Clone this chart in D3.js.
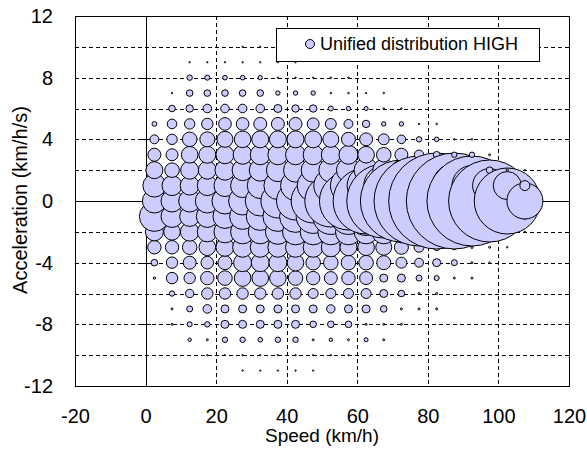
<!DOCTYPE html>
<html><head><meta charset="utf-8">
<script src="https://cdn.jsdelivr.net/npm/d3@7"></script>
<style>
html,body{margin:0;padding:0;background:#fff;}
svg{display:block;font-family:"Liberation Sans",Arial,sans-serif;}
</style></head>
<body>
<svg id="chart" width="587" height="452"></svg>
<script>
// Bubble grid: speed bins (km/h) x acceleration bins (km/h/s)
const speeds = [2.5,7.5,12.5,17.5,22.5,27.5,32.5,37.5,42.5,47.5,52.5,57.5,62.5,67.5,72.5,77.5,82.5,87.5,92.5,97.5,102.5,107.5];
const accels = [10,9,8,7,6,5,4,3,2,1,0,-1,-2,-3,-4,-5,-6,-7,-8,-9,-10,-11];
// relative frequency (bubble area units); one row per acceleration, columns follow speeds
const freq = [
 [0,0,0,0,0,0.5,0.5,0,0,0,0,0,0,0,0,0,0,0,0,0,0,0],
 [0,0,0.5,0.5,0.5,0.5,0.5,0.5,0.5,0,0,0,0,0,0,0,0,0,0,0,0,0],
 [0,0,7.3,6.3,5.3,5.3,4.8,0.5,0.5,0.5,0.6,0.6,0,0,0,0,0,0,0,0,0,0],
 [0,0.6,10.9,10.9,10.9,10.9,10.9,4.8,4.8,4.8,0.6,0.6,0.5,0.6,0,0,0,0,0,0,0,0],
 [0,10.9,13.7,18.5,18.5,18.5,18.5,16,13.7,13.7,6.3,4.8,4,0.6,0.6,0,0,0,0,0,0,0],
 [5.8,23,27,32.5,40,40,42,42,42,36,30,20,13.7,4.8,4.8,0.6,0.6,0,0,0,0,0],
 [20,27,53,56,64,69,72,72,72,72,64,49,42,30,18.5,7.3,5.3,0.6,0.6,0,0,0],
 [42,36,69,72,81,90,100,100,100,100,90,90,69,53,42,22,10.9,7.3,7.3,1,0,0],
 [72,53,81,81,100,110,121,132,144,144,144,144,144,121,100,81,64,49,25,10.9,1.4,0.6],
 [132,100,90,100,121,144,169,196,225,256,289,324,361,400,441,484,484,484,400,289,196,25],
 [144,121,121,144,169,196,225,289,361,484,676,841,1089,1369,1681,2025,2304,2304,2025,1681,1089,324],
 [225,121,100,121,144,169,196,225,256,289,324,324,361,400,441,441,441,400,324,169,64,7.3],
 [81,69,86,100,121,144,144,156,169,169,169,169,144,144,121,100,81,64,36,16,2.3,0.6],
 [45,45,53,69,81,100,100,100,100,100,90,72,69,64,49,25,10.9,6.3,1.4,1,0.6,0],
 [10.9,32.5,42,40,49,81,81,81,69,53,53,53,53,49,30,20,16,9,1,0.6,0,0],
 [1.4,32.5,32.5,45,53,69,69,69,53,45,42,45,42,16,16,9,6.3,1,1,0,0,0],
 [0,7.3,17.6,32.5,32.5,32.5,32.5,32.5,32.5,25,25,25,25,16,10.9,1,1,0,0,0,0,0],
 [0,1,9,18.5,16,16,16,16,16,16,17.6,16,16,10.9,1,1,1,0,0,0,0,0],
 [0,1,6.3,7.3,16,16,16,16,16,10.9,10.9,10.9,1,1,1,0,0,0,0,0,0,0],
 [0,0,2.9,1,7.3,7.3,5.3,7.3,7.3,1,2.9,1,4,1,0,0,0,0,0,0,0,0],
 [0,0,0,0.5,0.5,0.5,0.5,0.5,0.5,0.5,0.5,0.5,0,0,0,0,0,0,0,0,0,0],
 [0,0,0,0,0,0.5,0.5,0.5,0.5,0.5,0,0,0,0,0,0,0,0,0,0,0,0]
];
const xTicks = [-20,0,20,40,60,80,100,120];
const yTicks = [-12,-8,-4,0,4,8,12];
const xGridVals = [20,40,60,80,100];
const yGridVals = [-10,-8,-6,-4,-2,2,4,6,8,10];
const seriesName = "Unified distribution HIGH";
const xTitle = "Speed (km/h)";
const yTitle = "Acceleration (km/h/s)";

const L = 75, R = 569, T = 16, B = 386;
const svg = d3.select("#chart");
const x = d3.scaleLinear().domain([-20,120]).range([L,R]);
const y = d3.scaleLinear().domain([-12,12]).range([B,T]);
const maxF = d3.max(freq.flat());
const r = d3.scaleSqrt().domain([0,maxF]).range([0,48]);
const fill = "#ccccff";
const fmt = d => String(d);   // plain hyphen-minus like the original

// grid
const g = svg.append("g").attr("shape-rendering","crispEdges");
g.selectAll("line.vg").data(xGridVals).join("line")
  .attr("x1",d=>Math.round(x(d))+0.5).attr("x2",d=>Math.round(x(d))+0.5)
  .attr("y1",T).attr("y2",B)
  .attr("stroke","#000").attr("stroke-dasharray","4,3");
g.selectAll("line.hg").data(yGridVals).join("line")
  .attr("y1",d=>Math.round(y(d))+0.5).attr("y2",d=>Math.round(y(d))+0.5)
  .attr("x1",L).attr("x2",R)
  .attr("stroke","#000").attr("stroke-dasharray","4,3");
// axes crossing at origin
g.append("line").attr("x1",L).attr("x2",R)
  .attr("y1",Math.round(y(0))+0.5).attr("y2",Math.round(y(0))+0.5).attr("stroke","#000");
g.append("line").attr("y1",T).attr("y2",B)
  .attr("x1",Math.round(x(0))+0.5).attr("x2",Math.round(x(0))+0.5).attr("stroke","#000");
g.selectAll("line.yt").data(yTicks.filter(d=>d!==0)).join("line")
  .attr("x1",Math.round(x(0))-4).attr("x2",Math.round(x(0))+5)
  .attr("y1",d=>Math.round(y(d))+0.5).attr("y2",d=>Math.round(y(d))+0.5).attr("stroke","#000");
g.selectAll("line.xt").data(xTicks.filter(d=>d!==0)).join("line")
  .attr("y1",Math.round(y(0))-4).attr("y2",Math.round(y(0))+5)
  .attr("x1",d=>Math.round(x(d))+0.5).attr("x2",d=>Math.round(x(d))+0.5).attr("stroke","#000");

// bubbles: speed-major, acceleration ascending draw order
const pts = [];
speeds.forEach((s,j)=>{
  accels.map((a,i)=>({a,i})).sort((p,q)=>p.a-q.a).forEach(({a,i})=>{
    const v = freq[i][j];
    if (v>0) pts.push({s,a,v});
  });
});
svg.append("g").selectAll("circle").data(pts).join("circle")
  .attr("cx",d=>x(d.s)).attr("cy",d=>y(d.a))
  .attr("r",d=>Math.max(r(d.v),0.6))
  .attr("fill",fill).attr("stroke","#000").attr("stroke-width",1);

// plot frame
svg.append("rect").attr("x",L+0.5).attr("y",T+0.5).attr("width",R-L).attr("height",B-T)
  .attr("fill","none").attr("stroke","#000").attr("shape-rendering","crispEdges");

// axis labels
const ax = svg.append("g").attr("transform",`translate(${L},0)`)
  .call(d3.axisLeft(y).tickValues(yTicks).tickSize(0).tickPadding(22).tickFormat(fmt));
ax.select(".domain").remove();
ax.selectAll("text").attr("font-size",20).attr("fill","#000").attr("font-family","Liberation Sans, Arial, sans-serif");
const bx = svg.append("g").attr("transform",`translate(0,${B})`)
  .call(d3.axisBottom(x).tickValues(xTicks).tickSize(0).tickPadding(23).tickFormat(fmt));
bx.select(".domain").remove();
bx.selectAll("text").attr("font-size",20).attr("fill","#000").attr("font-family","Liberation Sans, Arial, sans-serif");

svg.append("text").attr("x",(L+R)/2).attr("y",442).attr("text-anchor","middle")
  .attr("font-size",19).text(xTitle);
svg.append("text").attr("transform","translate(27,200) rotate(-90)").attr("text-anchor","middle")
  .attr("font-size",20).text(yTitle);

// legend
const lg = svg.append("g");
lg.append("rect").attr("x",276.5).attr("y",28.5).attr("width",263).attr("height",33)
  .attr("fill","#fff").attr("stroke","#000").attr("shape-rendering","crispEdges");
lg.append("circle").attr("cx",310).attr("cy",44).attr("r",4.5).attr("fill",fill).attr("stroke","#000");
lg.append("text").attr("x",320).attr("y",50).attr("font-size",18).text(seriesName);
</script>
</body></html>
